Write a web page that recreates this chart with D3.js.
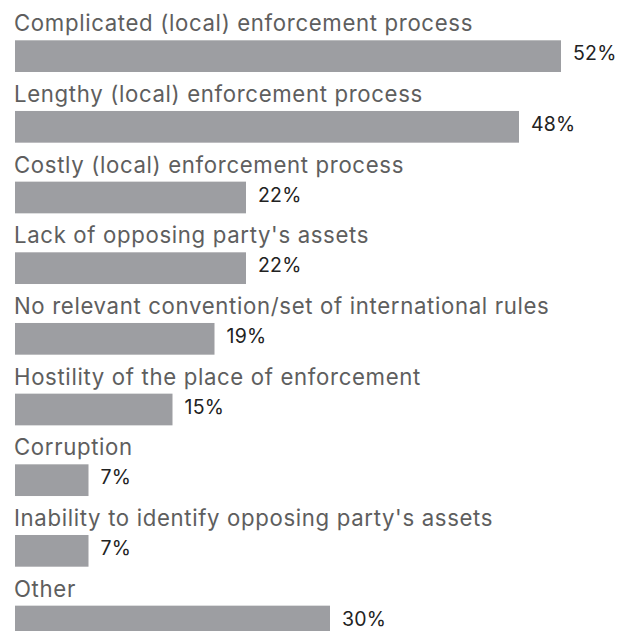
<!DOCTYPE html>
<html>
<head>
<meta charset="utf-8">
<script src="https://cdn.jsdelivr.net/npm/d3@7/dist/d3.min.js"></script>
<style>
  html, body { margin: 0; padding: 0; background: #fff; }
  svg { display: block; }
</style>
</head>
<body>
<svg id="chart" width="618" height="631"></svg>
<script>
// Obstacles to enforcement: share of respondents (%)
const categories = [
  "Complicated (local) enforcement process",
  "Lengthy (local) enforcement process",
  "Costly (local) enforcement process",
  "Lack of opposing party's assets",
  "No relevant convention/set of international rules",
  "Hostility of the place of enforcement",
  "Corruption",
  "Inability to identify opposing party's assets",
  "Other"
];
const values = [52, 48, 22, 22, 19, 15, 7, 7, 30];
const valueLabels = ["52%", "48%", "22%", "22%", "19%", "15%", "7%", "7%", "30%"];

const svg = d3.select("#chart");
const font = "Inter, 'Open Sans', sans-serif";

const step = 70.67;
const pad = 1 - 31.7 / step;
const top0 = 40.3;

const y = d3.scaleBand()
  .domain(categories)
  .range([top0, top0 + step * (categories.length - pad)])
  .paddingInner(pad)
  .paddingOuter(0);

const x = d3.scaleLinear()
  .domain([0, 52])
  .range([15, 561]);

const rows = svg.selectAll("g.row")
  .data(categories.map((c, i) => ({ c, v: values[i], label: valueLabels[i] })))
  .join("g")
  .attr("class", "row");

rows.append("rect")
  .attr("x", x(0))
  .attr("y", d => y(d.c))
  .attr("width", d => x(d.v) - x(0))
  .attr("height", y.bandwidth())
  .attr("fill", "#9d9ea2");

rows.append("text")
  .attr("x", x(0) - 1)
  .attr("y", d => y(d.c) - 9)
  .attr("font-family", font)
  .attr("font-size", 22.2)
  .attr("letter-spacing", 0.65)
  .attr("fill", "#5e5e5e")
  .text(d => d.c);

rows.append("text")
  .attr("x", d => x(d.v) + 12)
  .attr("y", d => y(d.c) + 20)
  .attr("font-family", font)
  .attr("font-size", 19.5)
  .attr("letter-spacing", 0.2)
  .attr("fill", "#222")
  .text(d => d.label);
</script>
</body>
</html>
